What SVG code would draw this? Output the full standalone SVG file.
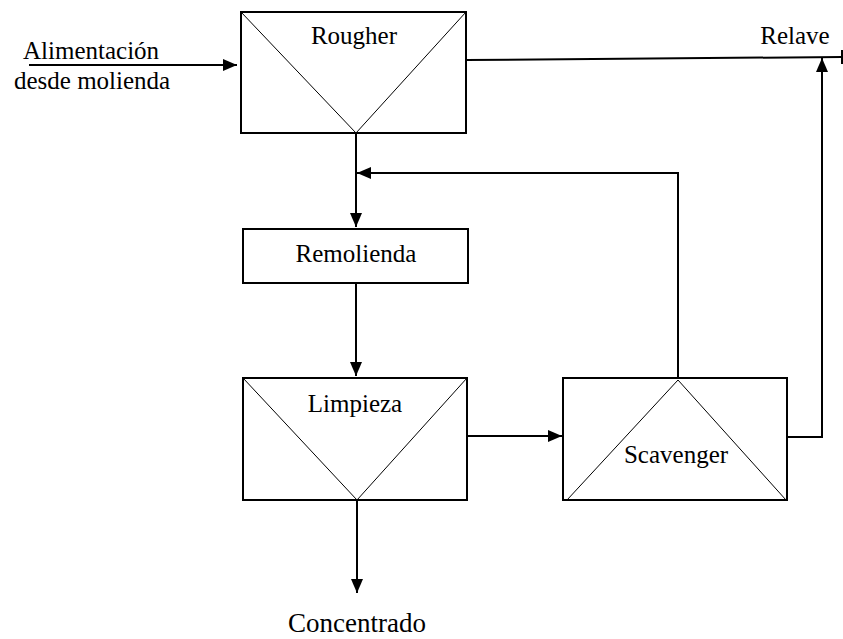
<svg xmlns="http://www.w3.org/2000/svg" width="843" height="639" viewBox="0 0 843 639">
<style>
  .box { fill: #fff; stroke: #000; stroke-width: 2; }
  .diag { fill: none; stroke: #000; stroke-width: 1; }
  .conn { fill: none; stroke: #000; stroke-width: 2; }
  .t { font-family: 'Liberation Serif', Tinos, 'DejaVu Serif', 'Times New Roman', serif; font-size: 25px; fill: #000; }
</style>
<defs>
  <marker id="ah" markerWidth="14" markerHeight="14" refX="14" refY="7" orient="auto" markerUnits="userSpaceOnUse">
    <path d="M0,1 L14,7 L0,13 z" fill="#000"/>
  </marker>
</defs>
<g id="rougher">
  <rect class="box" x="241" y="12" width="225" height="121"/>
  <path class="diag" d="M241,12 L356,133 L466,12"/>
  <text class="t" x="354" y="44" text-anchor="middle">Rougher</text>
</g>
<g id="remolienda">
  <rect class="box" x="243" y="229" width="225" height="54"/>
  <text class="t" x="356" y="262" text-anchor="middle">Remolienda</text>
</g>
<g id="limpieza">
  <rect class="box" x="243" y="378" width="224" height="122"/>
  <path class="diag" d="M243,378 L357,500 L467,378"/>
  <text class="t" x="355" y="412" text-anchor="middle">Limpieza</text>
</g>
<g id="scavenger">
  <rect class="box" x="563" y="378" width="224" height="122"/>
  <path class="diag" d="M567,500 L678,380 L786,500"/>
  <text class="t" x="676" y="463" text-anchor="middle">Scavenger</text>
</g>
<g id="labels">
  <text class="t" x="23" y="59">Alimentación</text>
  <text class="t" x="14" y="89">desde molienda</text>
  <text class="t" x="795" y="44" text-anchor="middle">Relave</text>
  <text class="t" x="357" y="632" text-anchor="middle" style="font-size:27px">Concentrado</text>
</g>
<g id="connectors">
  <path class="conn" d="M29,65 L237,65" marker-end="url(#ah)"/>
  <path class="conn" d="M356,133 L356,227" marker-end="url(#ah)"/>
  <path class="conn" d="M678,378 L678,173 L357,173" marker-end="url(#ah)"/>
  <path class="conn" d="M356,283 L356,376" marker-end="url(#ah)"/>
  <path class="conn" d="M467,436 L562,436" marker-end="url(#ah)"/>
  <path class="conn" d="M357,500 L357,593" marker-end="url(#ah)"/>
  <path class="conn" d="M787,437 L822,437 L822,58" marker-end="url(#ah)"/>
  <path class="conn" d="M466,60 L842,57"/>
  <path class="conn" d="M842,50 L842,64"/>
</g>
</svg>
